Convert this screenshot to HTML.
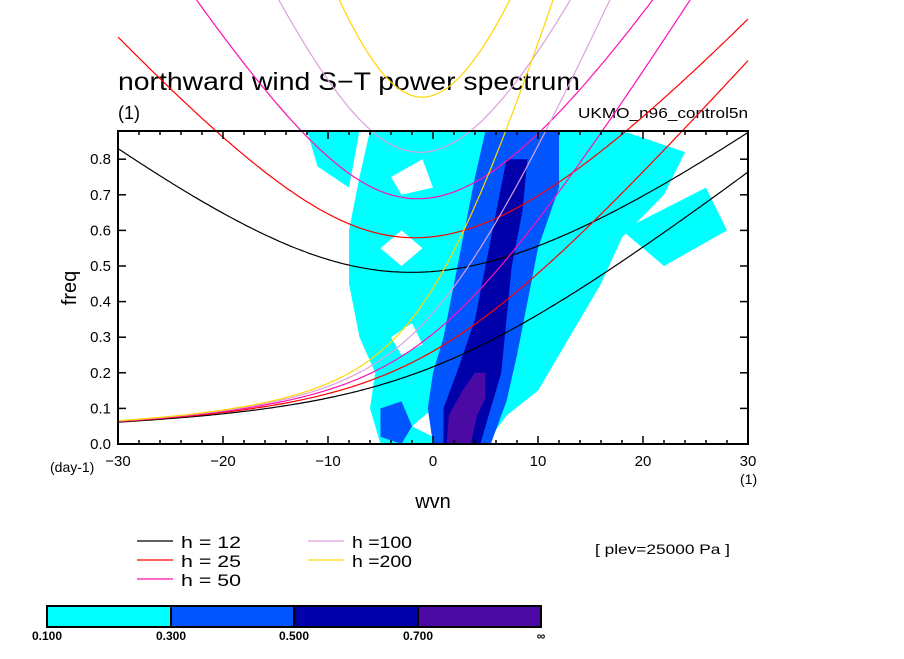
<!DOCTYPE html>
<html><head><meta charset="utf-8"><style>
body{margin:0;background:#fff}
svg text{font-family:"Liberation Sans",sans-serif;fill:#000}
</style></head><body>
<svg id="chart" width="904" height="654" viewBox="0 0 904 654" xmlns="http://www.w3.org/2000/svg">
<text x="118" y="90" font-size="25" textLength="462" lengthAdjust="spacingAndGlyphs">northward wind S−T power spectrum</text>
<text x="118" y="119" font-size="18">(1)</text>
<text x="578" y="118" font-size="15" textLength="170" lengthAdjust="spacingAndGlyphs">UKMO_n96_control5n</text>
<g id="contours"></g>
<g id="curves"></g>
<rect x="118" y="131" width="630" height="313" fill="none" stroke="#000" stroke-width="2"/>
<g id="ticks"></g>
<text x="0" y="0" font-size="20" transform="translate(76,288) rotate(-90)" text-anchor="middle">freq</text>
<text x="433" y="508" font-size="20" text-anchor="middle">wvn</text>
<text x="50" y="472" font-size="14">(day-1)</text>
<text x="740" y="484" font-size="14">(1)</text>
<g id="legend"></g>
<text x="595" y="554" font-size="14" textLength="135" lengthAdjust="spacingAndGlyphs">[ plev=25000 Pa ]</text>
<g id="colorbar"></g>
</svg>
<script>
const hValues=[12,25,50,100,200];
const curveColors=["#000000","#ff0000","#ff10b0","#dda0dd","#ffd700"];
const xTicks=[-30,-20,-10,0,10,20,30];
const yTicks=[0,0.1,0.2,0.3,0.4,0.5,0.6,0.7,0.8];
const levelLabels=["0.100","0.300","0.500","0.700","∞"];
const levelColors=["#00ffff","#0055ff","#0000aa","#4c0aa4"];
// contour regions as [wvn,freq] outlines
const cyanRegion=[[-5,0],[-6,0.1],[-5.5,0.2],[-7,0.3],[-8,0.45],[-8,0.6],[-7,0.75],[-6,0.88],[18,0.88],[24,0.82],[22,0.7],[18,0.58],[16,0.45],[14,0.35],[12,0.25],[10,0.15],[7,0.08],[5,0]];
const cyanRegion2=[[-12,0.88],[-11,0.78],[-8,0.72],[-7,0.88]];
const cyanRegion3=[[18,0.6],[26,0.72],[28,0.6],[22,0.5]];
const whiteHoles=[[[-5,0.55],[-3,0.6],[-1,0.55],[-3,0.5]],[[-4,0.3],[-2,0.34],[-1,0.28],[-3,0.25]],[[-4,0.75],[-1,0.8],[0,0.72],[-3,0.7]],[[11,0.2],[13,0.25],[14,0.2],[12,0.15]],[[-2,0.05],[0,0.1],[0,0.02]]];
const blueRegion=[[0,0],[-0.5,0.1],[0,0.2],[1,0.3],[2,0.45],[3,0.6],[4,0.75],[5,0.88],[12,0.88],[12,0.72],[10,0.55],[9,0.4],[8,0.25],[7,0.12],[5.5,0]];
const blueRegion2=[[-5,0.02],[-5,0.1],[-3,0.12],[-2,0.05],[-3,0]];
const navyRegion=[[1,0],[1,0.1],[2.5,0.22],[4,0.35],[5,0.5],[6,0.65],[7,0.8],[9,0.8],[8.5,0.65],[7.5,0.5],[7,0.35],[6.5,0.2],[5.5,0.1],[4.5,0]];
const purpleRegion=[[1.3,0],[1.5,0.08],[2.8,0.15],[4,0.2],[5,0.2],[5,0.13],[4.2,0.08],[3.6,0]];
const X0=118,X1=748,Y0=444,PX=35.6;
const xs=w=>X0+(w+30)*(X1-X0)/60;
const ys=f=>Y0-f*PX*10;
const NS="http://www.w3.org/2000/svg";
function mk(tag,parent,attrs){const e=document.createElementNS(NS,tag);for(const k in attrs)e.setAttribute(k,attrs[k]);parent.appendChild(e);return e;}
const cont=document.getElementById('contours');
const regions=[[cyanRegion,0,'cyan-region'],[cyanRegion2,0,'cyan-region-left'],[cyanRegion3,0,'cyan-region-right'],[blueRegion,1,'blue-region'],[blueRegion2,1,'blue-region-left'],[navyRegion,2,'navy-region'],[purpleRegion,3,'purple-region']];
regions.forEach((r,idx)=>{
  const p=mk('polygon',cont,{points:r[0].map(q=>xs(q[0])+','+ys(q[1])).join(' '),fill:levelColors[r[1]]});
  
  
  if(idx===2){
    whiteHoles.forEach(hh=>{
      const w=mk('polygon',cont,{points:hh.map(q=>xs(q[0])+','+ys(q[1])).join(' '),fill:'#fff'});
      
      
    });
  }
});
// dispersion curves
const g=9.81,beta=2.29e-11,a=6.371e6,cpd=86400/(2*Math.PI);
const cg=document.getElementById('curves');
hValues.forEach((h,i)=>{
  const c=Math.sqrt(g*h);
  let mrg=[],ig=[];
  for(let s=-30;s<=30.001;s+=0.25){
    const k=s/a;
    const w0=k*c/2+Math.sqrt(k*k*c*c/4+beta*c);
    mrg.push([s,w0*cpd]);
    let w=Math.sqrt(c*c*k*k+5*beta*c);
    for(let it=0;it<30;it++){w=Math.sqrt(Math.max(1e-20,c*c*k*k+5*beta*c+beta*k*c*c/w));}
    ig.push([s,w*cpd]);
  }
  [mrg,ig].forEach((arr,j)=>{
    const pts=arr.map(q=>[xs(q[0]),ys(q[1])]).filter(q=>q[1]>-50);
    const l=mk('polyline',cg,{points:pts.map(q=>q[0].toFixed(1)+','+q[1].toFixed(1)).join(' '),fill:'none',stroke:curveColors[i],'stroke-width':1.2});
    
    
  });
});
// ticks
const tg=document.getElementById('ticks');
for(let w=-30;w<=30;w+=2){
  const major=w%10===0, L=major?8:4;
  mk('line',tg,{x1:xs(w),x2:xs(w),y1:Y0,y2:Y0-L,stroke:'#000','stroke-width':1.5});
  mk('line',tg,{x1:xs(w),x2:xs(w),y1:131,y2:131+L,stroke:'#000','stroke-width':1.5});
}
xTicks.forEach(w=>{
  const t=mk('text',tg,{x:xs(w),y:466,'font-size':15,'text-anchor':'middle'});t.textContent=(w<0?'−':'')+Math.abs(w);
  
  
});
yTicks.forEach(f=>{
  mk('line',tg,{x1:X0,x2:X0+8,y1:ys(f),y2:ys(f),stroke:'#000','stroke-width':1.5});
  mk('line',tg,{x1:X1,x2:X1-8,y1:ys(f),y2:ys(f),stroke:'#000','stroke-width':1.5});
  const t=mk('text',tg,{x:111,y:ys(f)+5,'font-size':15,'text-anchor':'end'});t.textContent=f.toFixed(1);
  
  
});
// legend
const lg=document.getElementById('legend');
const legPos=[[137,541],[137,560],[137,579],[308,541],[308,560]];
const legText=["h = 12","h = 25","h = 50","h =100","h =200"];
hValues.forEach((h,i)=>{
  const [x,y]=legPos[i];
  const e=mk('g',lg,{});
  
  
  mk('line',e,{x1:x,x2:x+36,y1:y,y2:y,stroke:curveColors[i],'stroke-width':1.2});
  const t=mk('text',e,{x:x+44,y:y+7,'font-size':17,textLength:60,lengthAdjust:'spacingAndGlyphs'});t.textContent=legText[i];
});
// colorbar
const cb=document.getElementById('colorbar');
const cbx=[47,171,294,418,541];
levelColors.forEach((col,i)=>{
  const r=mk('rect',cb,{x:cbx[i],y:606,width:cbx[i+1]-cbx[i],height:21,fill:col,stroke:'#000','stroke-width':2});
  
  
});
levelLabels.forEach((s,i)=>{
  const t=mk('text',cb,{x:cbx[i],y:640,'font-size':12,'font-weight':'bold','text-anchor':'middle'});t.textContent=s;
  
  
});
</script>
</body></html>
